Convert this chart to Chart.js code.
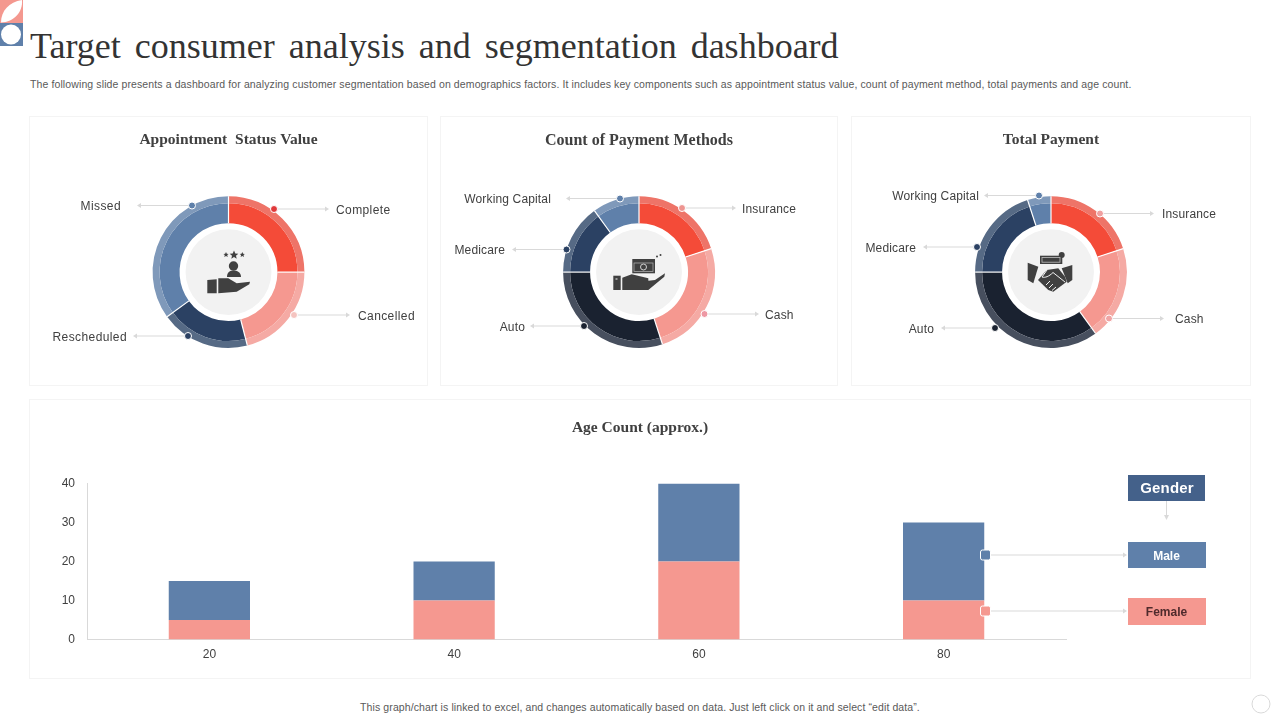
<!DOCTYPE html>
<html>
<head>
<meta charset="utf-8">
<title>Target consumer analysis and segmentation dashboard</title>
<script src="https://cdn.jsdelivr.net/npm/chart.js@4"></script>
<style>
  html, body { margin: 0; padding: 0; background: #fff; }
  body { width: 1280px; height: 720px; position: relative; overflow: hidden; font-family: "Liberation Sans", Arial, sans-serif; }
  h1 { position: absolute; left: 30px; top: 25px; margin: 0; font: 400 36px/42px "Liberation Serif", serif; color: #333; word-spacing: 5px; white-space: nowrap; }
  .sub { position: absolute; left: 30px; top: 78px; font-size: 10.5px; line-height: 13px; letter-spacing: 0.11px; color: #595959; white-space: nowrap; }
  .foot { position: absolute; left: 0; width: 1280px; top: 701px; text-align: center; font-size: 10.5px; line-height: 13px; letter-spacing: 0.1px; color: #595959; }
  .card { position: absolute; box-sizing: border-box; border: 1px solid #f4f4f4; }
  .card canvas { position: absolute; left: -1px; top: -1px; display: block; }
  #overlay { position: absolute; left: 0; top: 0; }
</style>
</head>
<body>
<h1>Target consumer analysis and segmentation dashboard</h1>
<div class="sub">The following slide presents a dashboard for analyzing customer segmentation based on demographics factors. It includes key components such as appointment status value, count of payment method, total payments and age count.</div>

<div class="card" style="left:29px;top:116px;width:399px;height:270px"><canvas id="statusChart" width="399" height="270"></canvas></div>
<div class="card" style="left:440px;top:116px;width:398px;height:270px"><canvas id="methodChart" width="398" height="270"></canvas></div>
<div class="card" style="left:851px;top:116px;width:400px;height:270px"><canvas id="paymentChart" width="400" height="270"></canvas></div>
<div class="card" style="left:29px;top:399px;width:1222px;height:280px"><canvas id="ageChart" width="1222" height="280"></canvas></div>

<div class="foot">This graph/chart is linked to excel, and changes automatically based on data. Just left click on it and select “edit data”.</div>

<svg id="overlay" width="1280" height="720" xmlns="http://www.w3.org/2000/svg">
  <!-- corner decoration -->
  <rect x="0" y="0" width="23" height="23" fill="#F4988F"/>
  <path d="M1 22.500 C1 11 9 2 22 0 C23 12 14 22 1 22.500 Z" fill="#fff"/>
  <rect x="0" y="23" width="23" height="23" fill="#5F80AA"/>
  <circle cx="11" cy="34.500" r="10" fill="#fff"/>
  <circle cx="1261" cy="704" r="9" fill="none" stroke="#d9d9d9"/>

  <text x="640" y="432" text-anchor="middle" font-family="Liberation Serif" font-weight="700" font-size="15.500" fill="#404040">Age Count (approx.)</text>

  <!-- icon: hand with person -->
  <g fill="#404040">
    <path d="M226 252l.8 1.800 1.800.2-1.400 1.100.5 1.800-1.700-1-1.700 1 .5-1.800-1.400-1.100 1.800-.2z"/>
    <path d="M234 250.500l1.300 2.900 3 .3-2.300 2 .7 3-2.700-1.600-2.700 1.600.7-3-2.300-2 3-.3z"/>
    <path d="M242.300 252l.8 1.800 1.800.2-1.400 1.100.5 1.800-1.700-1-1.700 1 .5-1.800-1.400-1.100 1.800-.2z"/>
    <circle cx="233.500" cy="266" r="4.700"/>
    <path d="M227 277 C227 272 230 270.500 233.500 270.500 C237 270.500 241 272 241 277 Z"/>
    <path d="M207.300 280 L216.700 279.300 L216.700 293.300 L207.300 293.300 Z"/>
    <path d="M218.300 278.300 L228.300 278.300 L236.700 283.300 L250 281.700 L249.300 284.300 L236.700 291.700 L218.300 293.300 Z"/>
  </g>
  <!-- icon: hand with banknote -->
  <g fill="#404040">
    <rect x="632.300" y="259" width="22.700" height="14.300"/>
    <circle cx="657" cy="256.500" r="1"/><circle cx="660.500" cy="255" r="1"/>
    <path d="M613.300 275.700 H620.700 V290 H613.300 Z"/>
    <path d="M622.300 277.700 L631.700 274.300 L648.300 278.300 L648.300 281 L640 281.700 L655 280 L665 273.300 L664.300 276.700 L648.300 290 L622.300 290 Z"/>
  </g>
  <rect x="634" y="263" width="19" height="8.500" fill="none" stroke="#a8a8a8" stroke-width="0.800"/>
  <circle cx="643.500" cy="267" r="3" fill="none" stroke="#d0d0d0" stroke-width="1"/>
  <path d="M615.500 279 h2" stroke="#f2f2f2"/>
  <!-- icon: handshake with banknote -->
  <g fill="#404040">
    <rect x="1040" y="255.700" width="22.300" height="8.300"/>
    <circle cx="1061.700" cy="255" r="3"/>
    <path d="M1027.700 262.700 L1038.300 266.700 L1033.300 283.300 L1027.700 280 Z"/>
    <path d="M1072.300 265 L1061.700 268.300 L1067.700 283.300 L1072.300 280 Z"/>
    <path d="M1038 280 L1046.700 270 L1058.300 268.300 L1065 276.700 L1066.700 281.700 L1053.300 291.700 L1048.300 290 Z"/>
  </g>
  <rect x="1042" y="257.500" width="18" height="4.700" fill="none" stroke="#bdbdbd" stroke-width="0.800"/>
  <path d="M1047 270 L1042 277 C1045 278 1049 276.500 1053 272.500 L1065 282 M1046 285 L1050 281 M1049 288 L1053 284 M1052 290.500 L1056 287" fill="none" stroke="#f2f2f2" stroke-width="1"/>

  <!-- gender legend -->
  <rect x="1128" y="475" width="77" height="26" fill="#44618A"/>
  <text x="1167" y="493" text-anchor="middle" font-family="Liberation Sans" font-weight="700" font-size="15" letter-spacing="0.2" fill="#fff">Gender</text>
  <line x1="1166.500" y1="501" x2="1166.500" y2="517" stroke="#d9d9d9"/>
  <path d="M1164 515 L1166.500 520 L1169 515 Z" fill="#d9d9d9"/>
  <g id="legendBoxes"></g>
  <g id="leaders"></g>
</svg>

<script>
// Data donat
const statusLabels = ['Complete', 'Cancelled', 'Rescheduled', 'Missed'];
const statusValues = [25, 21, 19, 35];

const methodLabels = ['Insurance', 'Cash', 'Auto', 'Medicare', 'Working Capital'];
const methodValues = [20, 25, 30, 15, 10];

const paymentLabels = ['Insurance', 'Cash', 'Auto', 'Medicare', 'Working Capital'];
const paymentValues = [20, 20, 35, 20, 5];

// Data batang
const ageLabels = ['20', '40', '60', '80'];
const femaleCounts = [5, 10, 20, 10];
const maleCounts = [10, 10, 20, 20];

// Warna
const RED = '#F44B38', PINK = '#F59890', NAVY = '#2B4163', BLUE = '#5F80AA', INK = '#1A2230';
const statusInner = [RED, PINK, NAVY, BLUE];
const statusOuter = ['#EE7468', '#F5AAA4', '#566A85', '#7F99BA'];
const paymentInner = [RED, PINK, INK, NAVY, BLUE];
const paymentOuter = ['#EE7468', '#F5AAA4', '#474F5E', '#566A85', '#7F99BA'];

// Garis penunjuk: [titik x, titik y, ujung panah x, teks x, warna titik]
const statusLeaders = [
    [274, 209, 329, 336, '#E0383A'],
    [294, 315, 350, 358, '#F5C4C0'],
    [188, 336, 133, 127, NAVY],
    [192, 205.5, 137, 121, BLUE]
];
const methodLeaders = [
    [682, 208, 736, 742, '#EE9490'],
    [704.5, 314, 759, 765, '#EE98A4'],
    [584, 326, 530, 525, INK],
    [566.5, 249.5, 512, 505, NAVY],
    [620, 198.5, 566, 551, BLUE]
];
const paymentLeaders = [
    [1100, 213.5, 1154, 1162, '#F0A0A0'],
    [1109, 318.5, 1164, 1175, '#F0A4A4'],
    [995, 328, 941, 934, INK],
    [977, 247, 923, 916, NAVY],
    [1039, 195.5, 984, 979, BLUE]
];

// Lingkaran tengah dan garis pemisah putih
const ringPlugin = {
    id: 'ring',
    afterDatasetsDraw(chart) {
        const ctx = chart.ctx;
        const outer = chart.getDatasetMeta(0).data;
        const inner = chart.getDatasetMeta(1).data;
        const x = outer[0].x, y = outer[0].y;
        const rOut = outer[0].outerRadius, rIn = inner[0].innerRadius;
        ctx.save();
        ctx.strokeStyle = '#fff';
        ctx.lineWidth = 1.2;
        outer.forEach(function(arc) {
            ctx.beginPath();
            ctx.moveTo(x + Math.cos(arc.startAngle) * rIn, y + Math.sin(arc.startAngle) * rIn);
            ctx.lineTo(x + Math.cos(arc.startAngle) * rOut, y + Math.sin(arc.startAngle) * rOut);
            ctx.stroke();
        });
        ctx.fillStyle = '#F2F2F2';
        ctx.beginPath();
        ctx.arc(x, y, rIn - 6, 0, Math.PI * 2);
        ctx.fill();
        ctx.restore();
    }
};

function makeDonut(id, title, titleSize, labels, values, innerColors, outerColors) {
    return new Chart(document.getElementById(id), {
        type: 'doughnut',
        data: {
            labels: labels,
            datasets: [
                { data: values, backgroundColor: outerColors, borderWidth: 0, weight: 7 },
                { data: values, backgroundColor: innerColors, borderWidth: 0, weight: 20 }
            ]
        },
        options: {
            responsive: false,
            animation: false,
            cutout: '64.5%',
            layout: { padding: { top: 15, bottom: 38 } },
            plugins: {
                legend: { display: false },
                tooltip: { enabled: false },
                title: {
                    display: true,
                    text: title,
                    color: '#404040',
                    font: { family: '"Liberation Serif"', size: titleSize, weight: 'bold', lineHeight: 1.2 },
                    padding: { top: 0, bottom: 65.2 - titleSize * 1.2 }
                }
            }
        },
        plugins: [ringPlugin]
    });
}

// Tambah elemen svg
function addSvg(parent, tag, attrs, text) {
    const el = document.createElementNS('http://www.w3.org/2000/svg', tag);
    Object.keys(attrs).forEach(function(k) { el.setAttribute(k, attrs[k]); });
    if (text) el.textContent = text;
    parent.appendChild(el);
    return el;
}

function drawLeaders(labels, leaders, spacing) {
    const g = document.getElementById('leaders');
    leaders.forEach(function(l, i) {
        const dir = l[2] > l[0] ? 1 : -1;
        const base = l[2] - dir * 4;
        addSvg(g, 'line', { x1: l[0], y1: l[1], x2: base, y2: l[1], stroke: '#d9d9d9' });
        addSvg(g, 'path', { d: 'M' + base + ' ' + (l[1] - 2.5) + ' L' + l[2] + ' ' + l[1] + ' L' + base + ' ' + (l[1] + 2.5) + ' Z', fill: '#d9d9d9' });
        addSvg(g, 'circle', { cx: l[0], cy: l[1], r: 3.5, fill: l[4], stroke: '#fff', 'stroke-width': 1 });
        addSvg(g, 'text', {
            x: l[3], y: l[1] + 4.5,
            'text-anchor': dir > 0 ? 'start' : 'end',
            'font-family': 'Liberation Sans', 'font-size': 12, 'letter-spacing': spacing, fill: '#404040'
        }, labels[i]);
    });
}

// Kotak keterangan Male / Female
function drawGenderLegend() {
    const g = document.getElementById('legendBoxes');
    const rows = [
        { name: 'Male', y: 555, top: 542, h: 26, fill: BLUE, text: '#fff' },
        { name: 'Female', y: 611, top: 598, h: 27, fill: PINK, text: '#4F2A2C' }
    ];
    rows.forEach(function(r) {
        addSvg(g, 'line', { x1: 985, y1: r.y, x2: 1124, y2: r.y, stroke: '#d9d9d9' });
        addSvg(g, 'path', { d: 'M1123 ' + (r.y - 2.5) + ' L1127 ' + r.y + ' L1123 ' + (r.y + 2.5) + ' Z', fill: '#d9d9d9' });
        addSvg(g, 'rect', { x: 980.5, y: r.y - 5, width: 10, height: 10, rx: 2, fill: r.fill, stroke: '#fff' });
        addSvg(g, 'rect', { x: 1128, y: r.top, width: 78, height: r.h, fill: r.fill });
        addSvg(g, 'text', {
            x: 1166.5, y: r.y + 4.5, 'text-anchor': 'middle', 'font-family': 'Liberation Sans',
            'font-weight': 700, 'font-size': 12, fill: r.text
        }, r.name);
    });
}

Chart.defaults.font.family = '"Liberation Sans", Arial, sans-serif';

function initCharts() {
    makeDonut('statusChart', 'Appointment  Status Value', 15.5, statusLabels, statusValues, statusInner, statusOuter);
    makeDonut('methodChart', 'Count of Payment Methods', 16, methodLabels, methodValues, paymentInner, paymentOuter);
    makeDonut('paymentChart', 'Total Payment', 15.5, paymentLabels, paymentValues, paymentInner, paymentOuter);

    new Chart(document.getElementById('ageChart'), {
        type: 'bar',
        data: {
            labels: ageLabels,
            datasets: [
                { label: 'Female', data: femaleCounts, backgroundColor: PINK, borderWidth: 0 },
                { label: 'Male', data: maleCounts, backgroundColor: BLUE, borderWidth: 0 }
            ]
        },
        options: {
            responsive: false,
            animation: false,
            layout: { padding: { top: 84.5, right: 185 } },
            datasets: { bar: { barPercentage: 0.332, categoryPercentage: 1 } },
            plugins: {
                legend: { display: false },
                tooltip: { enabled: false }
            },
            scales: {
                x: {
                    stacked: true,
                    grid: { display: false },
                    border: { color: '#d9d9d9' },
                    ticks: { color: '#404040', font: { size: 12 }, padding: 0 },
                    afterFit(scale) { scale.height = 39.5; }
                },
                y: {
                    stacked: true,
                    min: 0,
                    max: 40,
                    grid: { display: false },
                    border: { color: '#d9d9d9' },
                    ticks: { stepSize: 10, color: '#404040', font: { size: 12 }, padding: 4 },
                    afterFit(scale) { scale.width = 58; }
                }
            }
        }
    });

    drawLeaders(statusLabels, statusLeaders, 0.4);
    drawLeaders(methodLabels, methodLeaders, 0.15);
    drawLeaders(paymentLabels, paymentLeaders, 0.15);
    drawGenderLegend();
}

window.addEventListener('load', initCharts);
</script>
</body>
</html>
